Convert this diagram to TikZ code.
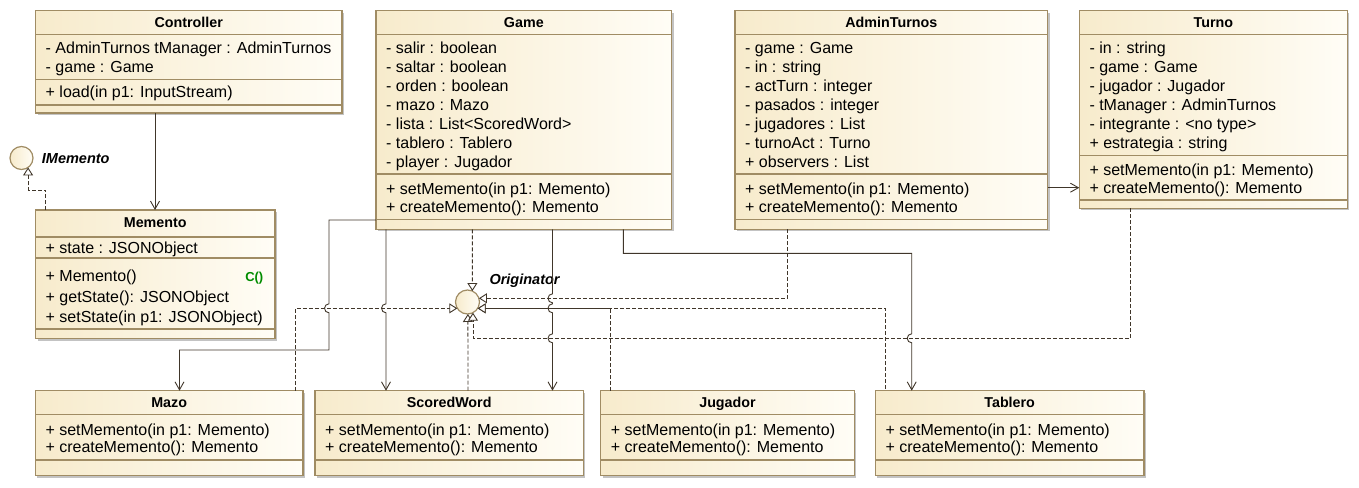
\documentclass[tikz,border=0pt]{standalone}
\usepackage{fontspec}
\setmainfont{Liberation Sans}
\usetikzlibrary{arrows.meta,shadows}
\definecolor{boxl}{RGB}{247,235,204}
\definecolor{boxr}{RGB}{255,253,246}
\definecolor{boxb}{RGB}{160,140,100}
\definecolor{ln}{RGB}{64,54,42}
\definecolor{shd}{RGB}{195,195,195}
\definecolor{cgreen}{RGB}{0,140,0}
\tikzset{
  classbox/.style={draw=boxb, line width=1.2pt, left color=boxl, right color=boxr,
    anchor=north west, inner sep=0pt, outer sep=0pt,
    drop shadow={shadow xshift=2pt, shadow yshift=-2pt, fill=shd, opacity=1}},
  sepline/.style={draw=boxb, line width=1.2pt},
  row/.style={anchor=base west, inner sep=0pt, font=\fontsize{16}{19}\selectfont},
  head/.style={anchor=base, inner sep=0pt, font=\fontsize{14.3}{17}\selectfont\bfseries},
  assoc/.style={draw=ln, line width=0.9pt, -{Straight Barb[length=8pt,width=9pt]}},
  real/.style={draw=ln, line width=0.9pt, dash pattern=on 4pt off 2pt,
    -{Triangle[open,length=8pt,width=10pt,fill=white]}},
  iface/.style={circle, draw=boxb, line width=1.2pt, left color=boxl, right color=boxr,
    inner sep=0pt, outer sep=0pt},
  ilabel/.style={anchor=base west, inner sep=0pt, font=\fontsize{14.5}{17}\selectfont\bfseries\itshape},
  cmark/.style={anchor=base east, inner sep=0pt, text=cgreen, font=\fontsize{13}{15}\selectfont\bfseries},
}
\newcommand\uclass[5]{%
  \pgfmathsetmacro\uw{#4-#2}\pgfmathsetmacro\uh{#5-#3}%
  \node[classbox, minimum width=\uw pt, minimum height=\uh pt] (#1) at (#2,#3) {};}
\newcommand\hsep[2]{\draw[sepline] (#1.west |- 0,#2) -- (#1.east |- 0,#2);}
\newcommand\rw[4]{\node[row] (#1) at (#2,#3) {#4};}
\begin{document}
\begin{tikzpicture}[x=1pt,y=-1pt]
\useasboundingbox (0,0) rectangle (1359,487);

% ---------- Controller
\uclass{controller}{35.5}{10.7}{342}{113}
\node[head] (controllerH) at (188.75,27.4) {Controller};
\hsep{controller}{34.3}\hsep{controller}{79.3}\hsep{controller}{105}
\rw{c1}{45.5}{53.8}{- AdminTurnos tManager : AdminTurnos}
\rw{c2}{45.5}{72.8}{- game : Game}
\rw{c3}{45.5}{97.4}{+ load(in p1: InputStream)}

% ---------- Game
\uclass{game}{376}{10.7}{671.7}{229.3}
\node[head] (gameH) at (523.85,27.4) {Game};
\hsep{game}{34.3}\hsep{game}{174}\hsep{game}{219.3}
\rw{g1}{386}{53.4}{- salir : boolean}
\rw{g2}{386}{72.4}{- saltar : boolean}
\rw{g3}{386}{91.4}{- orden : boolean}
\rw{g4}{386}{110.4}{- mazo : Mazo}
\rw{g5}{386}{129.4}{- lista : List<ScoredWord>}
\rw{g6}{386}{148.4}{- tablero : Tablero}
\rw{g7}{386}{167.4}{- player : Jugador}
\rw{g8}{386}{194.0}{+ setMemento(in p1: Memento)}
\rw{g9}{386}{212.4}{+ createMemento(): Memento}

% ---------- AdminTurnos
\uclass{adminturnos}{735}{10.7}{1047.7}{229.3}
\node[head] (adminH) at (891.35,27.4) {AdminTurnos};
\hsep{adminturnos}{34.3}\hsep{adminturnos}{174}\hsep{adminturnos}{219.3}
\rw{a1}{745}{53.4}{- game : Game}
\rw{a2}{745}{72.4}{- in : string}
\rw{a3}{745}{91.4}{- actTurn : integer}
\rw{a4}{745}{110.4}{- pasados : integer}
\rw{a5}{745}{129.4}{- jugadores : List}
\rw{a6}{745}{148.4}{- turnoAct : Turno}
\rw{a7}{745}{167.4}{+ observers : List}
\rw{a8}{745}{194.0}{+ setMemento(in p1: Memento)}
\rw{a9}{745}{212.4}{+ createMemento(): Memento}

% ---------- Turno
\uclass{turno}{1079.3}{10.7}{1347.3}{208.3}
\node[head] (turnoH) at (1213.3,27.4) {Turno};
\hsep{turno}{34.3}\hsep{turno}{155.3}\hsep{turno}{200}
\rw{t1}{1089.3}{53.4}{- in : string}
\rw{t2}{1089.3}{72.4}{- game : Game}
\rw{t3}{1089.3}{91.4}{- jugador : Jugador}
\rw{t4}{1089.3}{110.4}{- tManager : AdminTurnos}
\rw{t5}{1089.3}{129.4}{- integrante : <no type>}
\rw{t6}{1089.3}{148.4}{+ estrategia : string}
\rw{t7}{1089.3}{175.0}{+ setMemento(in p1: Memento)}
\rw{t8}{1089.3}{193.4}{+ createMemento(): Memento}

% ---------- Memento
\uclass{memento}{35.5}{210}{275}{338.5}
\node[head] (mementoH) at (155.25,227.4) {Memento};
\hsep{memento}{237}\hsep{memento}{258}\hsep{memento}{329}
\rw{m1}{45.5}{253.0}{+ state : JSONObject}
\rw{m2}{45.5}{281.2}{+ Memento()}
\node[cmark] (m2c) at (263.5,281.2) {C()};
\rw{m3}{45.5}{302.4}{+ getState(): JSONObject}
\rw{m4}{45.5}{322.4}{+ setState(in p1: JSONObject)}

% ---------- bottom row
\uclass{mazo}{35.3}{390.7}{303}{475.5}
\node[head] (mazoH) at (169.15,407.8) {Mazo};
\hsep{mazo}{414.3}\hsep{mazo}{460}
\rw{z1}{45.3}{435.0}{+ setMemento(in p1: Memento)}
\rw{z2}{45.3}{452.4}{+ createMemento(): Memento}

\uclass{scoredword}{315}{390.7}{583.3}{475.5}
\node[head] (swH) at (449.15,407.8) {ScoredWord};
\hsep{scoredword}{414.3}\hsep{scoredword}{460}
\rw{s1}{325}{435.0}{+ setMemento(in p1: Memento)}
\rw{s2}{325}{452.4}{+ createMemento(): Memento}

\uclass{jugador}{600.7}{390.7}{854.3}{475.5}
\node[head] (jugH) at (727.5,407.8) {Jugador};
\hsep{jugador}{414.3}\hsep{jugador}{460}
\rw{j1}{610.7}{435.0}{+ setMemento(in p1: Memento)}
\rw{j2}{610.7}{452.4}{+ createMemento(): Memento}

\uclass{tablero}{875.3}{390.7}{1144}{475.5}
\node[head] (tabH) at (1009.65,407.8) {Tablero};
\hsep{tablero}{414.3}\hsep{tablero}{460}
\rw{b1}{885.3}{435.0}{+ setMemento(in p1: Memento)}
\rw{b2}{885.3}{452.4}{+ createMemento(): Memento}

% ---------- interfaces
\node[iface, minimum size=23pt] (imemento) at (21.5,158) {};
\node[ilabel] (imementoL) at (41.7,163.5) {IMemento};
\node[iface, minimum size=24pt] (originator) at (467.5,302) {};
\node[ilabel] (originatorL) at (489.3,284.5) {Originator};

% ---------- associations
\draw[assoc] ([xshift=119.5pt]controller.south west) -- ([xshift=119.5pt]memento.north west);
\draw[assoc] ([yshift=41.6pt]adminturnos.south east) -- ([yshift=20.6pt]turno.south west);
\draw[assoc] ([yshift=9.3pt]game.south west) -| (329,303.8)
   arc[start angle=90,end angle=270,radius=4.5pt] -- (329,350) -| ([xshift=144.2pt]mazo.north west);
\draw[assoc] ([xshift=10pt]game.south west) -- (386,303.8)
   arc[start angle=90,end angle=270,radius=4.5pt] -- ([xshift=71pt]scoredword.north west);
\draw[assoc] ([xshift=176.5pt]game.south west) -- (552.5,293.8)
   arc[start angle=90,end angle=270,radius=4.5pt] -- (552.5,303.8)
   arc[start angle=90,end angle=270,radius=4.5pt] -- (552.5,333.8)
   arc[start angle=90,end angle=270,radius=4.5pt] -- ([xshift=237.5pt]scoredword.north west);
\draw[assoc] ([xshift=247.3pt]game.south west) -- (623.3,253.3) -| (911.7,333.8)
   arc[start angle=90,end angle=270,radius=4.5pt] -- ([xshift=36.4pt]tablero.north west);

% ---------- realizations
\draw[real] ([xshift=10pt]memento.north west) -- ++(0,-20) -| (imemento.-55);
\draw[real] ([xshift=96.3pt]game.south west) -- (originator.66);
\draw[real] ([xshift=52.7pt]adminturnos.south west) |- (originator.18);
\draw[real] ([xshift=10pt]jugador.north west) |- (originator.-32);
\draw[real, dash phase=4pt] ([xshift=10.4pt]tablero.north west) |- (originator.-32);
\draw[real] ([xshift=260pt]mazo.north west) |- (originator.212);
\draw[real] ([xshift=153pt]scoredword.north west) -- (originator.-88);
\draw[real] ([xshift=51.4pt]turno.south west) -- ++(0,130) -| (originator.-63);
\end{tikzpicture}
\end{document}
